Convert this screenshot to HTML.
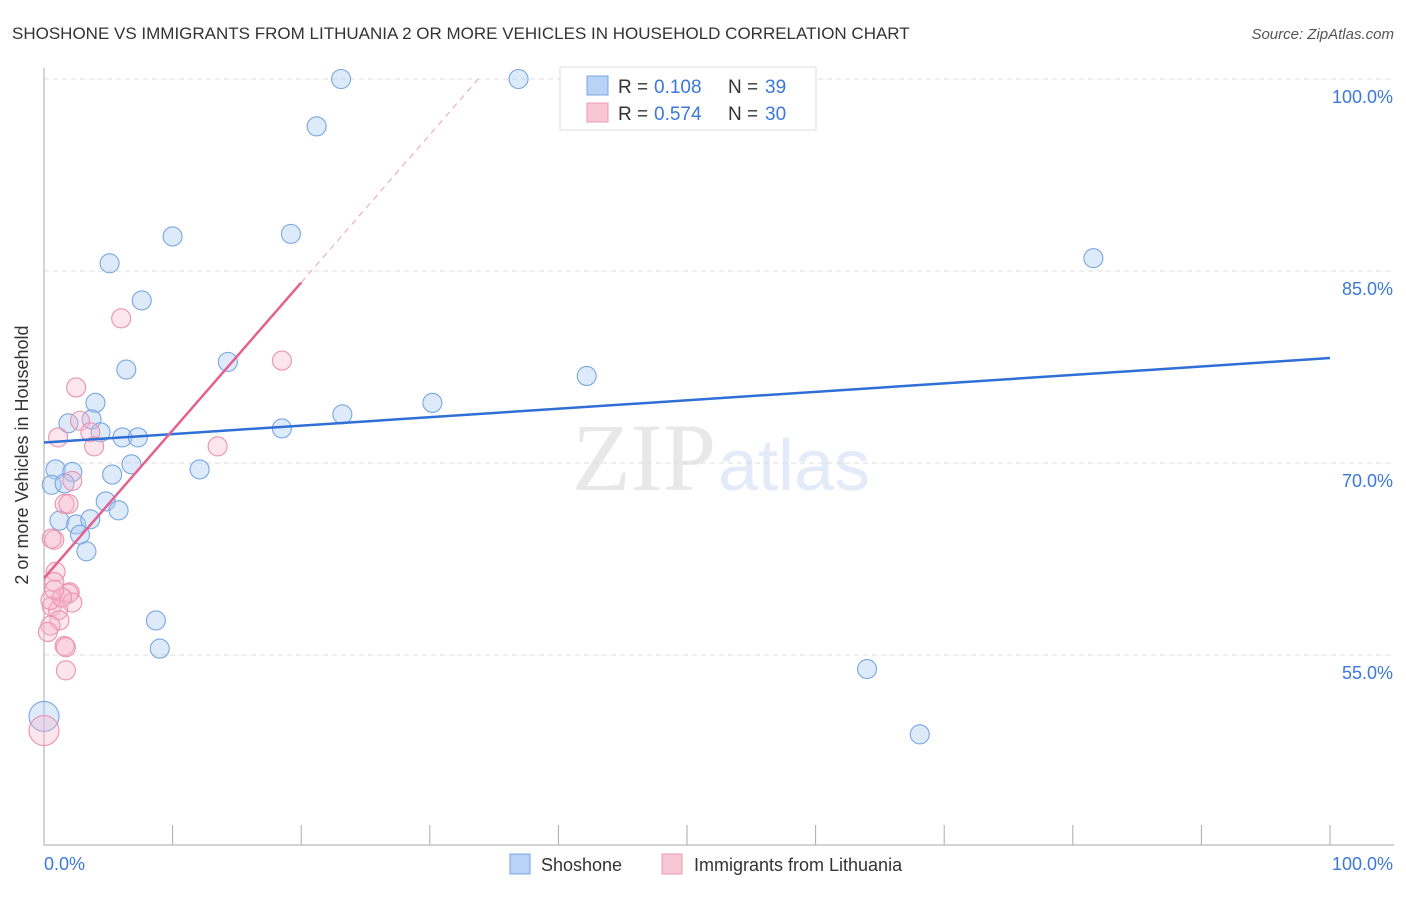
<!DOCTYPE html>
<html><head><meta charset="utf-8"><style>
body{margin:0;background:#fff;font-family:"Liberation Sans",sans-serif;}
</style></head><body>
<svg id="c" width="1406" height="892" xmlns="http://www.w3.org/2000/svg" style="font-family:'Liberation Sans',sans-serif">
<text x="12" y="39" font-size="17" fill="#333">SHOSHONE VS IMMIGRANTS FROM LITHUANIA 2 OR MORE VEHICLES IN HOUSEHOLD CORRELATION CHART</text>
<text x="1394" y="39" font-size="15" fill="#555" font-style="italic" text-anchor="end">Source: ZipAtlas.com</text>
<text x="716" y="490" font-size="96" fill="#e8e8e8" text-anchor="end" font-family="Liberation Serif">ZIP</text>
<text x="718" y="490" font-size="72" fill="#e2ebf7">atlas</text>
<g id="grid"></g><g id="axes"></g><g id="pts"></g><g id="trend"></g>
<text x="28" y="455" font-size="18" fill="#333" text-anchor="middle" transform="rotate(-90 28 455)">2 or more Vehicles in Household</text>
<text x="44" y="870" font-size="18" fill="#3b78d8">0.0%</text>
<text x="1393" y="870" font-size="18" fill="#3b78d8" text-anchor="end">100.0%</text>
<g>
<rect x="560" y="67" width="256" height="63" fill="#fff" stroke="#ddd"/>
<rect x="587" y="76" width="21" height="19" fill="#b8d3f5" stroke="#7aa6e3"/>
<rect x="587" y="103" width="21" height="19" fill="#f9c6d6" stroke="#eb9bb5"/>
<text x="618" y="93" font-size="19" fill="#333">R =</text>
<text x="654" y="93" font-size="19" fill="#3b78d8">0.108</text>
<text x="728" y="93" font-size="19" fill="#333">N =</text>
<text x="765" y="93" font-size="19" fill="#3b78d8">39</text>
<text x="618" y="120" font-size="19" fill="#333">R =</text>
<text x="654" y="120" font-size="19" fill="#3b78d8">0.574</text>
<text x="728" y="120" font-size="19" fill="#333">N =</text>
<text x="765" y="120" font-size="19" fill="#3b78d8">30</text>
</g>
<g>
<rect x="510" y="854" width="20" height="20" fill="#b8d3f5" stroke="#7aa6e3"/>
<text x="541" y="871" font-size="18" fill="#333">Shoshone</text>
<rect x="662" y="854" width="20" height="20" fill="#f9c6d6" stroke="#eb9bb5"/>
<text x="694" y="871" font-size="18" fill="#333">Immigrants from Lithuania</text>
</g>
</svg>
<script>
const yTicks=[100,85,70,55];
const yTickLabels=["100.0%","85.0%","70.0%","55.0%"];
const xTicks=[0,10,20,30,40,50,60,70,80,90,100];
const blueX=[23.1,36.9,21.2,10.0,19.2,5.1,81.6,7.6,14.3,6.4,42.2,4.0,30.2,23.2,1.9,3.7,18.5,4.4,6.1,7.3,0.9,2.2,12.1,6.8,5.3,0.6,1.6,4.8,5.8,1.2,2.5,3.6,2.8,3.3,8.7,9.0,64.0,68.1,0];
const blueY=[100,100,96.3,87.7,87.9,85.6,86.0,82.7,77.9,77.3,76.8,74.7,74.7,73.8,73.1,73.4,72.7,72.4,72.0,72.0,69.5,69.3,69.5,69.9,69.1,68.3,68.4,67.0,66.3,65.5,65.2,65.6,64.4,63.1,57.7,55.5,53.9,48.8,50.2];
const pinkX=[6.0,18.5,2.5,1.1,2.8,3.6,3.9,13.5,2.2,1.6,1.9,0.8,0.6,0.9,0.8,2.0,1.9,2.2,0.6,1.1,1.2,0.5,0.3,1.6,1.7,1.7,0,0.5,1.4,0.8];
const pinkY=[81.3,78.0,75.9,72.0,73.3,72.4,71.3,71.3,68.6,66.8,66.8,64.0,64.1,61.5,60.7,59.9,59.8,59.1,58.8,58.5,57.7,57.3,56.8,55.7,55.6,53.8,49.1,59.3,59.5,60.1];
const blueTrend=[71.6,78.2];
const pinkTrend=[61.0,84.1];
const NS="http://www.w3.org/2000/svg";
const sx=v=>44+v*12.86, sy=v=>79+(100-v)*12.8;
function mk(p,t,a){const e=document.createElementNS(NS,t);for(const k in a)e.setAttribute(k,a[k]);document.getElementById(p).appendChild(e);return e;}
yTicks.forEach((t,i)=>{
 const l=mk('grid','line',{x1:44,x2:1394,y1:sy(t),y2:sy(t),stroke:'#ddd','stroke-dasharray':'5,4'});
 
 
 const tx=mk('grid','text',{x:1393,y:sy(t)+24,'font-size':18,fill:'#3b78d8','text-anchor':'end'});
 tx.textContent=yTickLabels[i];
 
 
});
const ax=mk('axes','line',{x1:44,x2:44,y1:68,y2:845,stroke:'#aaa'});


const bx=mk('axes','line',{x1:44,x2:1394,y1:845,y2:845,stroke:'#aaa'});


xTicks.forEach(t=>{const l=mk('axes','line',{x1:sx(t),x2:sx(t),y1:825,y2:845,stroke:'#aaa'});
 
 });
function pts(X,Y,fill,stroke,name){X.forEach((x,i)=>{const big=x===0;
 const c=mk('pts','circle',{cx:sx(x),cy:sy(Y[i]),r:big?15:9.5,fill:fill,stroke:stroke,'stroke-width':1.1});
 
 });}
pts(blueX,blueY,'rgba(170,202,242,0.4)','#78a6e2','shoshone-point');
pts(pinkX,pinkY,'rgba(246,180,202,0.35)','#eb92b1','lithuania-point');
const bt=mk('trend','line',{x1:sx(0),y1:sy(blueTrend[0]),x2:sx(100),y2:sy(blueTrend[1]),stroke:'#2f6fd6','stroke-width':2.5});


const slope=(pinkTrend[1]-pinkTrend[0])/20;
const xEnd=(100-pinkTrend[0])/slope;
const pd=mk('trend','line',{x1:sx(20),y1:sy(pinkTrend[1]),x2:sx(xEnd),y2:sy(100),stroke:'#eaa0b8','stroke-width':1,'stroke-dasharray':'6,5'});


const pt=mk('trend','line',{x1:sx(0),y1:sy(pinkTrend[0]),x2:sx(20),y2:sy(pinkTrend[1]),stroke:'#e5608f','stroke-width':2.5});


</script>
</body></html>
